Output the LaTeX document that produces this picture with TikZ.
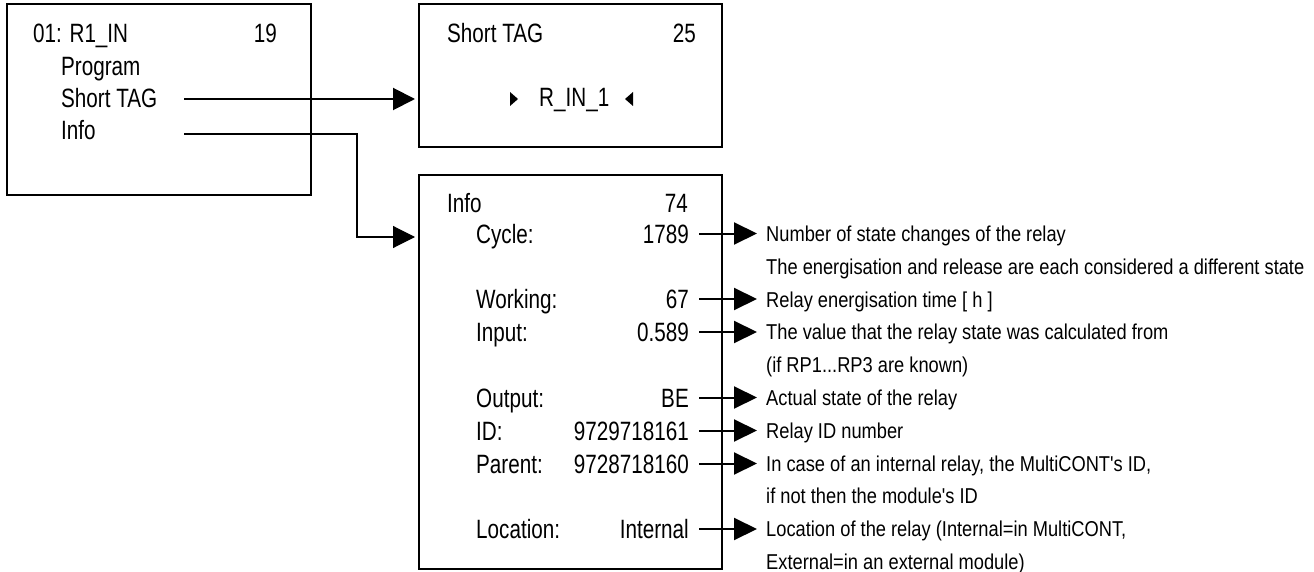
\documentclass[tikz,border=0pt]{standalone}
\usepackage{fontspec}
\setmainfont{Liberation Sans}
\newfontfamily\bxf[FakeStretch=0.78]{Liberation Sans}
\newfontfamily\dsf[FakeStretch=0.85]{Liberation Sans}
\usetikzlibrary{arrows.meta}
\tikzset{
  frame/.style={draw, line width=2.2pt, inner sep=0pt, outer sep=0pt, anchor=north west},
  bt/.style={font=\bxf\fontsize{26.5}{30}\selectfont, inner sep=0pt},
  dt/.style={font=\dsf\fontsize{21.5}{26}\selectfont, inner sep=0pt, anchor=base west},
  mainarrow/.style={line width=2pt, shorten >=4pt, -{Triangle[length=22pt,width=22pt]}},
  infoarrow/.style={line width=1.1pt, shorten >=4pt, -{Triangle[length=22pt,width=22pt]}},
  sidearrow/.style={line width=2pt, -{Triangle[length=23pt,width=22pt]}},
  marker/.style={fill=black, draw=none}
}
\begin{document}
\begin{tikzpicture}[x=1pt,y=-1pt]
\useasboundingbox (0,0) rectangle (1314,572);
% boxes
\node[frame, minimum width=304pt, minimum height=191pt] (b1) at (7,4) {};
\node[frame, minimum width=303pt, minimum height=143pt] (b2) at (419,4) {};
\node[frame, minimum width=303pt, minimum height=394pt] (b3) at (419,175) {};
% box 1 texts
\node[bt, anchor=base west] (t1a) at (33,43) {01: R1\_IN};
\node[bt, anchor=base east] (t1b) at (277,43) {19};
\node[bt, anchor=base west] (t1c) at (61,75.5) {Program};
\node[bt, anchor=base west] (t1d) at (61,108) {Short TAG};
\node[bt, anchor=base west] (t1e) at (61,139.5) {Info};
% box 2 texts
\node[bt, anchor=base west] (t2a) at (447,43) {Short TAG};
\node[bt, anchor=base east] (t2b) at (696,43) {25};
\node[bt, anchor=base west] (t2c) at (539,107) {R\_IN\_1};
\fill[marker] (510,92) -- (518,99) -- (510,106) -- cycle;
\fill[marker] (633,92) -- (625,99) -- (633,106) -- cycle;
% box 3 texts
\node[bt, anchor=base west] (t3a) at (447,212) {Info};
\node[bt, anchor=base east] (t3b) at (688,212) {74};
\foreach \lab/\val/\c/\n in {Cycle:/1789/233.5/1, Working:/67/299/2, Input:/0.589/332/3, Output:/BE/397.5/4, ID:/9729718161/430.5/5, Parent:/9728718160/463.5/6, Location:/Internal/529/7}{
  \node[bt, anchor=base west] (l\n) at (476,\c+9.5) {\lab};
  \node[bt, anchor=base east] (v\n) at (689,\c+9.5) {\val};
  \coordinate (s\n) at (699,\c);
  \coordinate (e\n) at (757,\c);
  \draw[sidearrow] (s\n) -- (e\n);
}
% descriptions
\node[dt] (d0) at (766,241.5) {Number of state changes of the relay};
\node[dt] (d1) at (766,274.3) {The energisation and release are each considered a different state};
\node[dt] (d2) at (766,307.1) {Relay energisation time [ h ]};
\node[dt] (d3) at (766,339.9) {The value that the relay state was calculated from};
\node[dt] (d4) at (766,372.7) {(if RP1...RP3 are known)};
\node[dt] (d5) at (766,405.5) {Actual state of the relay};
\node[dt] (d6) at (766,438.3) {Relay ID number};
\node[dt] (d7) at (766,471.1) {In case of an internal relay, the MultiCONT's ID,};
\node[dt] (d8) at (766,503.9) {if not then the module's ID};
\node[dt] (d9) at (766,536.7) {Location of the relay (Internal=in MultiCONT,};
\node[dt] (d10) at (766,569.5) {External=in an external module)};
% connectors
\coordinate (a1) at (184,99);
\coordinate (a2) at (184,134);
\coordinate (a3) at (357,237);
\draw[mainarrow] (a1) -- (a1 -| b2.west);
\draw[infoarrow] (a2) -| (a3) -- (a3 -| b3.west);
\end{tikzpicture}
\end{document}
